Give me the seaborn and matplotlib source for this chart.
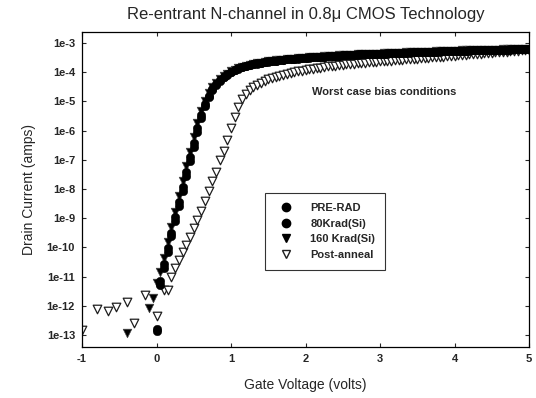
import numpy as np
import pandas as pd
import seaborn as sns
import matplotlib.pyplot as plt
from matplotlib.lines import Line2D

# %% data (log10 of drain current in amps)
vg_grid = np.round(np.arange(0, 5.001, 0.05), 2)  # gate sweep, 0.05 V steps

pre_rad = [-12.80, -11.15, -10.55, -10.02, -9.50, -8.97, -8.45, -7.93, -7.42, -6.90,
           -6.42, -5.92, -5.45, -5.08, -4.80, -4.57, -4.40, -4.26, -4.15, -4.06,
           -3.98, -3.92, -3.87, -3.82, -3.78, -3.75, -3.72, -3.69, -3.67, -3.65,
           -3.63, -3.61, -3.60, -3.58, -3.57, -3.56, -3.54, -3.53, -3.52, -3.51,
           -3.50,
           -3.49, -3.48, -3.47, -3.46, -3.46, -3.45, -3.44, -3.43, -3.43, -3.42,
           -3.41, -3.41, -3.40, -3.39, -3.39, -3.38, -3.38, -3.37, -3.37, -3.36,
           -3.36, -3.35, -3.35, -3.34, -3.34, -3.33, -3.33, -3.32, -3.32, -3.31,
           -3.31, -3.30, -3.30, -3.29, -3.29, -3.28, -3.28, -3.28, -3.27, -3.27,
           -3.26, -3.26, -3.26, -3.25, -3.25, -3.24, -3.24, -3.24, -3.23, -3.23,
           -3.23, -3.22, -3.22, -3.22, -3.21, -3.21, -3.21, -3.20, -3.20, -3.20]

krad80 = [-12.85, -11.30, -10.70, -10.15, -9.62, -9.10, -8.57, -8.05, -7.55, -7.03,
          -6.55, -6.05, -5.57, -5.17, -4.86, -4.62, -4.44, -4.29, -4.17, -4.08,
          -4.00, -3.93, -3.88, -3.83, -3.79, -3.76, -3.73, -3.70, -3.68, -3.66,
          -3.64, -3.62, -3.60, -3.59, -3.57, -3.56, -3.55, -3.54, -3.53, -3.52,
          -3.51,
          -3.50, -3.49, -3.48, -3.47, -3.46, -3.45, -3.45, -3.44, -3.43, -3.42,
          -3.42, -3.41, -3.40, -3.40, -3.39, -3.39, -3.38, -3.38, -3.37, -3.37,
          -3.36, -3.36, -3.35, -3.35, -3.34, -3.34, -3.33, -3.33, -3.32, -3.32,
          -3.31, -3.31, -3.30, -3.30, -3.29, -3.29, -3.28, -3.28, -3.28, -3.27,
          -3.27, -3.26, -3.26, -3.26, -3.25, -3.25, -3.24, -3.24, -3.24, -3.23,
          -3.23, -3.23, -3.22, -3.22, -3.22, -3.21, -3.21, -3.21, -3.20, -3.20]

krad160_v = [-0.40, -0.10, -0.05] + list(vg_grid)
krad160 = [-12.93, -12.08, -11.74,
           -11.22, -10.85, -10.35, -9.82, -9.30, -8.78, -8.25, -7.73, -7.22, -6.72,
           -6.22, -5.75, -5.32, -4.98, -4.72, -4.52, -4.36, -4.23, -4.13, -4.05,
           -3.97, -3.91, -3.86, -3.82, -3.78, -3.75, -3.72, -3.69, -3.67, -3.65,
           -3.63, -3.61, -3.59, -3.58, -3.57, -3.55, -3.54, -3.53, -3.52, -3.51,
           -3.50,
           -3.49, -3.48, -3.47, -3.46, -3.45, -3.45, -3.44, -3.43, -3.42, -3.42,
           -3.41, -3.40, -3.40, -3.39, -3.39, -3.38, -3.37, -3.37, -3.36, -3.36,
           -3.35, -3.35, -3.34, -3.34, -3.33, -3.33, -3.32, -3.32, -3.31, -3.31,
           -3.30, -3.30, -3.29, -3.29, -3.28, -3.28, -3.27, -3.27, -3.27, -3.26,
           -3.26, -3.25, -3.25, -3.25, -3.24, -3.24, -3.23, -3.23, -3.23, -3.22,
           -3.22, -3.22, -3.21, -3.21, -3.21, -3.20, -3.20, -3.20, -3.19, -3.19]

anneal_v = [-1.0, -0.8, -0.65, -0.55, -0.4, -0.3, -0.15, 0.0, 0.1, 0.15, 0.2] + list(vg_grid[5:])
anneal = [-12.83, -12.11, -12.18, -12.04, -11.87, -12.59, -11.63, -12.35, -11.46, -11.46, -11.00,
          -10.71, -10.43, -10.16, -9.90, -9.64, -9.34, -9.06, -8.76, -8.42, -8.08,
          -7.74, -7.40, -7.02, -6.68, -6.32, -5.92, -5.52, -5.18, -4.92, -4.74,
          -4.60, -4.50, -4.42, -4.35, -4.29, -4.24, -4.20, -4.16, -4.12, -4.09,
          -4.06, -4.03, -4.00, -3.97, -3.95, -3.92,
          -3.90, -3.88, -3.86, -3.84, -3.82, -3.80, -3.79, -3.77, -3.76, -3.74,
          -3.73, -3.72, -3.70, -3.69, -3.68, -3.67, -3.66, -3.65, -3.64, -3.63,
          -3.62, -3.61, -3.60, -3.59, -3.58, -3.57, -3.56, -3.55, -3.54, -3.53,
          -3.52, -3.51, -3.50, -3.49, -3.48, -3.47, -3.46, -3.45, -3.44, -3.43,
          -3.42, -3.41, -3.40, -3.39, -3.38, -3.37, -3.36, -3.35, -3.34, -3.33,
          -3.32, -3.31, -3.30, -3.29, -3.28, -3.27, -3.26, -3.25, -3.24, -3.23]

ytick_exp = list(range(-3, -14, -1))
ytick_labels = [f"1e{e}" for e in ytick_exp]
xticks = [-1, 0, 1, 2, 3, 4, 5]

# %% plot
sns.set_style("ticks")
plt.rcParams['font.family'] = ['Liberation Sans', 'DejaVu Sans']

fig, ax = plt.subplots(figsize=(5.36, 3.98), dpi=100)
fig.subplots_adjust(left=82/536, right=529/536, top=1-32/398, bottom=1-347/398)

ms = 38
sns.scatterplot(x=anneal_v, y=10**np.array(anneal), marker='v', s=ms, color='white',
                edgecolor='#1e1e1e', linewidth=0.9, ax=ax, zorder=2)
sns.scatterplot(x=krad160_v, y=10**np.array(krad160), marker='v', s=ms, color='black',
                edgecolor='#444444', linewidth=0.5, ax=ax, zorder=3)
sns.scatterplot(x=vg_grid, y=10**np.array(krad80), marker='o', s=ms, color='black',
                edgecolor='black', linewidth=0.3, ax=ax, zorder=4)
sns.scatterplot(x=vg_grid, y=10**np.array(pre_rad), marker='o', s=ms, color='black',
                edgecolor='black', linewidth=0.3, ax=ax, zorder=5)

ax.set_yscale('log')
ax.set_xlim(-1, 5)
ax.set_ylim(10**-13.41, 10**-2.62)
ax.set_yticks([10.0**e for e in ytick_exp])
ax.set_yticklabels(ytick_labels)
ax.yaxis.set_minor_locator(plt.NullLocator())
ax.set_xticks(xticks)
ax.set_xticklabels([str(t) for t in xticks])
ax.tick_params(direction='in', top=True, right=True, length=3, width=0.8,
               labelsize=8, pad=5)
for lab in ax.get_xticklabels() + ax.get_yticklabels():
    lab.set_fontweight('bold')
for sp in ax.spines.values():
    sp.set_color('black')
    sp.set_linewidth(0.9)

ax.set_title("Re-entrant N-channel in 0.8\u03bc CMOS Technology", fontsize=12, pad=9)
ax.set_xlabel("Gate Voltage (volts)", fontsize=10, labelpad=10)
ax.set_ylabel("Drain Current (amps)", fontsize=10, labelpad=8)

ax.text(0.515, 0.81, "Worst case bias conditions", transform=ax.transAxes,
        fontsize=8, fontweight='bold', ha='left', va='center')

handles = [
    Line2D([], [], ls='none', marker='o', color='black', markersize=6),
    Line2D([], [], ls='none', marker='o', color='black', markersize=6),
    Line2D([], [], ls='none', marker='v', color='black', markersize=6),
    Line2D([], [], ls='none', marker='v', markerfacecolor='white',
           markeredgecolor='#1e1e1e', markersize=6),
]
labels = ["PRE-RAD", "80Krad(Si)", "160 Krad(Si)", "Post-anneal"]
leg = ax.legend(handles, labels, loc='upper left', bbox_to_anchor=(0.409, 0.489),
                frameon=True, fancybox=False, edgecolor='black',
                prop={'weight': 'bold', 'size': 8}, handletextpad=1.2,
                borderpad=0.9, labelspacing=0.5, borderaxespad=0)
leg.get_frame().set_linewidth(0.8)

plt.savefig("out.png", dpi=100)
